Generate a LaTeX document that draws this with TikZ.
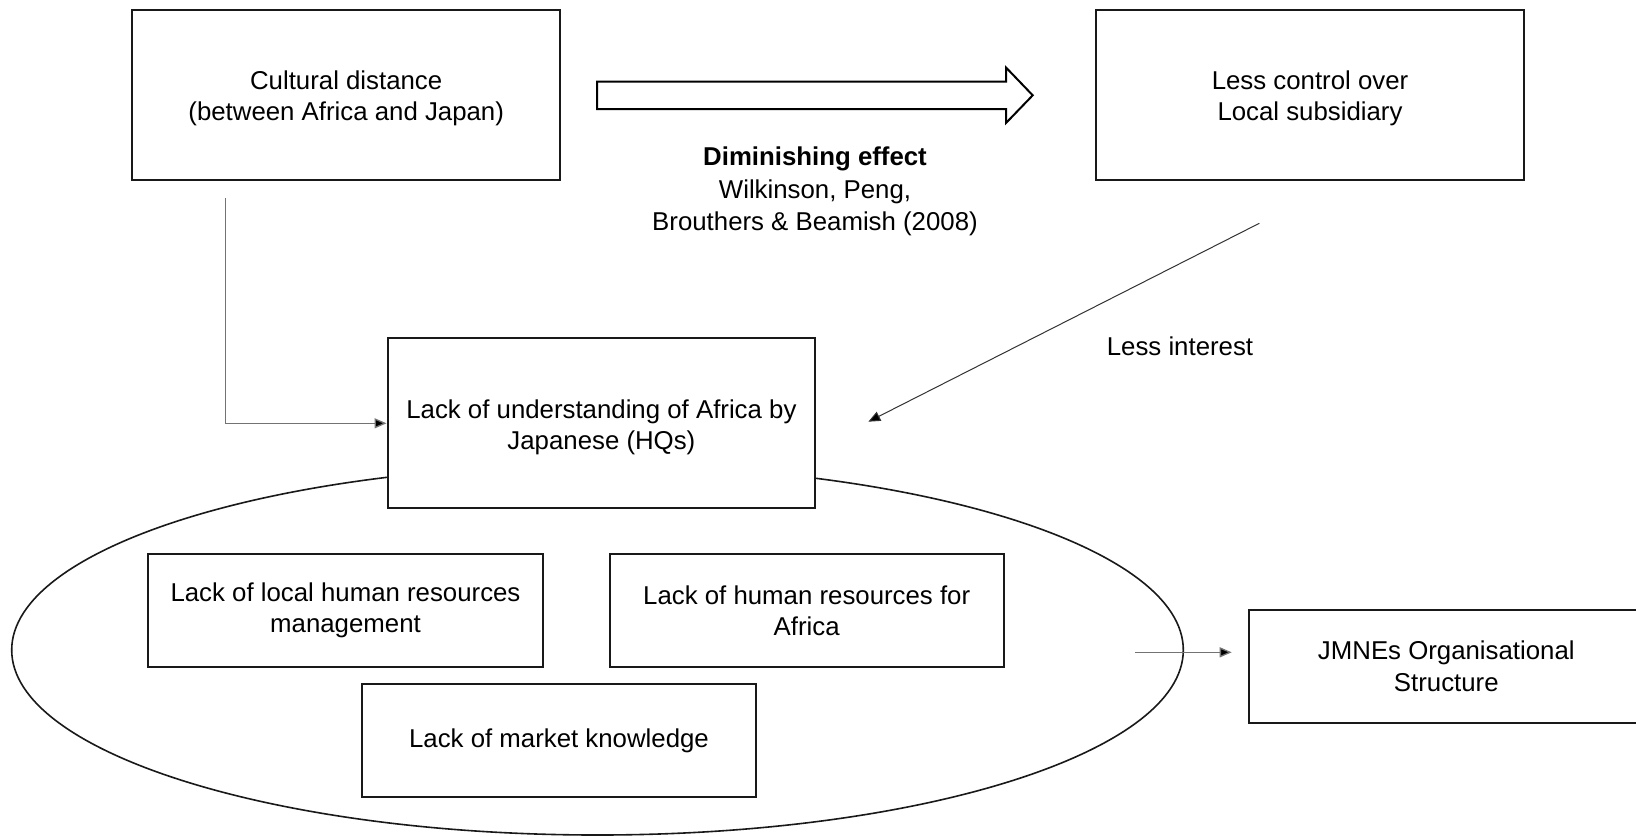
\documentclass[tikz,border=0pt]{standalone}
\usepackage{fontspec}
\setmainfont{Liberation Sans}
\usetikzlibrary{shapes.geometric,arrows.meta}

\tikzset{
  box/.style={draw=black!90, line width=1pt, fill=white, rectangle, inner sep=0pt,
              align=center, font=\fontsize{12.9}{15.6}\selectfont},
  bigbox/.style={box, minimum width=213.9pt, minimum height=85pt,
                 text height=29pt, text depth=3pt},
  smallbox/.style={box, minimum width=197.2pt, minimum height=56.3pt},
  label/.style={align=center, inner sep=0pt, font=\fontsize{12.9}{16.3}\selectfont},
  conn/.style={draw=black!55, line width=0.65pt, -{Triangle[length=6pt,width=5pt,fill=black]}},
  connd/.style={draw=black!80, line width=0.5pt, -{Triangle[length=6pt,width=5pt,fill=black]}},
}

\begin{document}
\begin{tikzpicture}[x=0.5pt, y=-0.5pt]
  \useasboundingbox (0,0) rectangle (1636,836);

  % group of organisational gaps
  \node[ellipse, draw=black!90, line width=0.8pt, inner sep=0pt,
        minimum width=585.8pt, minimum height=185pt] (grp) at (597.5,650) {};

  % top row
  \node[bigbox] (cult) at (346.2,94.5) {Cultural distance\\(between Africa and Japan)};
  \node[bigbox] (ctrl) at (1310,94.5) {Less control over\\Local subsidiary};

  % block arrow between the top boxes
  \draw[line width=1pt, fill=white]
    (597,81.5) -- (1006,81.5) -- (1006,67.5) -- (1032.7,95.3) -- (1006,123)
    -- (1006,109) -- (597,109) -- cycle;
  \node[label] (dim) at (815,191.5)
    {\textbf{Diminishing effect}\\Wilkinson, Peng,\\Brouthers \& Beamish (2008)};

  % central box
  \node[bigbox] (hq) at (601.4,423.3) {Lack of understanding of Africa by\\Japanese (HQs)};

  % boxes inside the ellipse
  \node[smallbox] (lhr) at (345.5,610.4) {Lack of local human resources\\management};
  \node[smallbox] (hra) at (806.7,610.4) {Lack of human resources for\\Africa};
  \node[smallbox] (mkt) at (559,740.4) {Lack of market knowledge};

  % outcome box
  \node[smallbox] (org) at (1446.3,666.2) {JMNEs Organisational\\Structure};

  % connectors
  \coordinate (cultout) at (225.7,198.3);
  \draw[conn] (cultout) |- (hq.west);

  \coordinate (ctrlout) at (1259.3,223.3);
  \coordinate (hqin) at (868.3,421.7);
  \draw[connd] (ctrlout) -- (hqin);
  \node[label] (less) at (1180,346.5) {Less interest};

  \coordinate (grpout) at (1135,652.3);
  \coordinate (orgin) at (1231.7,652.3);
  \draw[conn] (grpout) -- (orgin);
\end{tikzpicture}
\end{document}
